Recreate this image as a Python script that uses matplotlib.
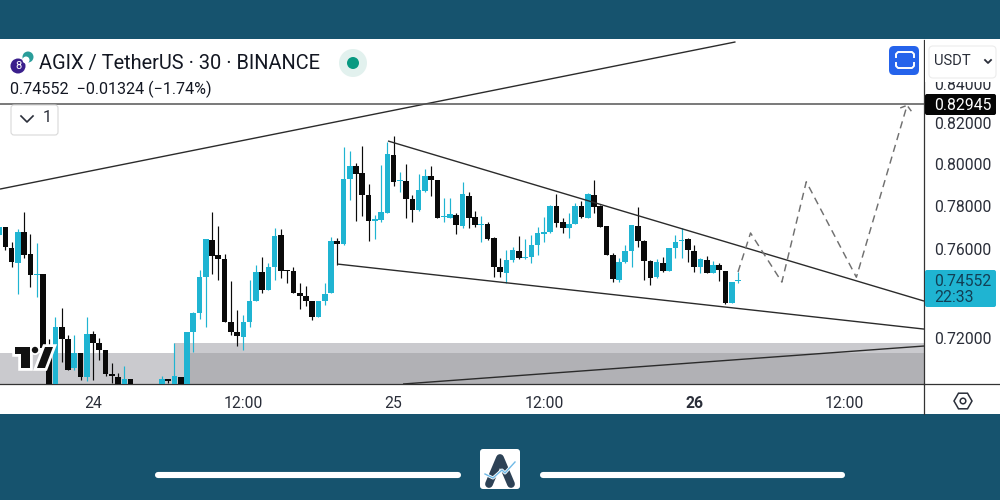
#!/usr/bin/env python3
"""AGIX / TetherUS 30 minute chart with wedge drawings, as seen in a phone screenshot."""

import numpy as np
import matplotlib
matplotlib.use('Agg')
import matplotlib.pyplot as plt
from matplotlib.patches import Rectangle, FancyBboxPatch, Circle, RegularPolygon, Polygon

plt.rcParams['font.family'] = ['Roboto', 'DejaVu Sans']

# bar index 0 is midnight on the 24th, one bar is 30 minutes
first_bar = -15
opens = [.7664, .7703, .7602, .7536, .7678, .7575, .7478, .7486, .7156, .6963, .7247, .7195, .7070, .7134, .7031,
         .7218, .7177, .7149, .7045, .7031, .6985, .7024, .6985, .6950, .6930, .6915, .6963, .7023, .6985, .7031,
         .6963, .7228, .7309, .7472, .7641, .7570, .7555, .7268, .7225, .7206, .7271, .7364, .7494, .7411, .7515,
         .7662, .7501, .7498, .7401, .7386, .7361, .7290, .7365, .7398, .7637, .7620, .7929, .7990, .7955, .7852,
         .7731, .7734, .7768, .8042, .7918, .7921, .7833, .7779, .7871, .7944, .7923, .7746, .7745, .7759, .7706,
         .7849, .7746, .7712, .7715, .7650, .7515, .7491, .7548, .7590, .7558, .7561, .7619, .7669, .7676, .7801,
         .7723, .7698, .7716, .7801, .7745, .7850, .7799, .7704, .7571, .7459, .7538, .7590, .7707, .7637, .7544,
         .7469, .7535, .7498, .7602, .7636, .7644, .7591, .7515, .7548, .7491, .7527, .7498, .7353, .7451]
highs = [.7703, .7703, .7630, .7693, .7770, .7667, .7625, .7486, .7196, .7294, .7334, .7211, .7214, .7134, .7294,
         .7231, .7202, .7149, .7091, .7048, .7077, .7024, .6985, .6950, .6930, .6963, .7034, .7023, .7177, .7031,
         .7228, .7316, .7502, .7647, .7770, .7707, .7576, .7452, .7321, .7302, .7457, .7525, .7564, .7533, .7696,
         .7691, .7503, .7515, .7445, .7431, .7361, .7361, .7442, .7656, .7648, .8082, .8065, .8006, .8088, .7902,
         .7757, .7995, .8109, .8137, .7963, .8000, .7852, .7950, .7974, .7990, .7923, .7839, .7836, .7765, .7912,
         .7868, .7776, .7754, .7726, .7656, .7556, .7594, .7610, .7659, .7645, .7664, .7703, .7746, .7804, .7855,
         .7742, .7765, .7815, .7825, .7863, .7923, .7806, .7704, .7582, .7556, .7618, .7709, .7796, .7641, .7548,
         .7552, .7561, .7602, .7662, .7695, .7648, .7619, .7558, .7567, .7545, .7533, .7498, .7450, .7495]
lows = [.7664, .7595, .7515, .7395, .7558, .7424, .7380, .7156, .6963, .6963, .7098, .7060, .7063, .7020, .7013,
        .7017, .7105, .7037, .7005, .6963, .6963, .6963, .6950, .6930, .6915, .6900, .6963, .7005, .6963, .6963,
        .6963, .7141, .7284, .7247, .7484, .7457, .7268, .7212, .7163, .7149, .7250, .7364, .7398, .7411, .7457,
        .7468, .7445, .7398, .7328, .7343, .7279, .7290, .7346, .7398, .7525, .7618, .7828, .7731, .7753, .7638,
        .7644, .7726, .7768, .7895, .7864, .7743, .7723, .7776, .7868, .7849, .7743, .7726, .7742, .7670, .7695,
        .7698, .7703, .7633, .7641, .7472, .7472, .7442, .7541, .7555, .7552, .7533, .7571, .7633, .7672, .7700,
        .7672, .7651, .7713, .7745, .7745, .7765, .7700, .7570, .7447, .7450, .7536, .7515, .7610, .7457, .7435,
        .7465, .7495, .7498, .7556, .7556, .7538, .7495, .7488, .7488, .7488, .7454, .7349, .7353, .7445]
closes = [.7703, .7607, .7538, .7679, .7573, .7478, .7486, .7156, .6963, .7247, .7195, .7063, .7134, .7031, .7218,
          .7177, .7149, .7045, .7034, .6985, .7024, .6985, .6950, .6930, .6915, .6963, .7024, .7016, .7034, .6985,
          .7228, .7309, .7472, .7647, .7569, .7553, .7268, .7226, .7208, .7271, .7362, .7494, .7412, .7515, .7659,
          .7497, .7497, .7401, .7386, .7361, .7291, .7361, .7396, .7636, .7620, .7929, .7990, .7953, .7852, .7731,
          .7738, .7770, .8047, .7915, .7923, .7832, .7779, .7874, .7944, .7923, .7743, .7751, .7762, .7709, .7855,
          .7745, .7710, .7716, .7645, .7515, .7492, .7548, .7593, .7558, .7564, .7619, .7672, .7679, .7801, .7718,
          .7698, .7717, .7801, .7746, .7857, .7793, .7703, .7571, .7462, .7539, .7591, .7709, .7636, .7544, .7468,
          .7538, .7497, .7602, .7632, .7642, .7593, .7515, .7555, .7491, .7527, .7501, .7353, .7450, .7457]

# drawings as (bar, price)
channel_top = [(-14.86, .7880), (102.6, .8615)]
wedge_upper = [(47.1, .8113), (132.7, .7363)]
wedge_lower = [(39.0, .7530), (132.7, .7239)]
rising_support = [(49.5, .7002), (132.7, .7165)]
projection_bars = [103.0, 105.0, 110.0, 113.9, 121.9, 130.0]
projection_prices = [.7494, .7673, .7448, .7915, .7470, .8290]
arrow_bars = [128.9, 130.0, 130.7]
arrow_prices = [.8277, .8290, .8260]
last_close_line = 0.82945

# zones: start bar, end bar, lower price, upper price
zone_left = (-14.86, 14.8, .7002, .7135)
zone_band = (12.9, 132.7, .7135, .7178)
zone_core = (14.8, 132.7, .7002, .7135)

price_ticks = [0.72, 0.76, 0.78, 0.80, 0.82, 0.84]
time_ticks = [0, 24, 48, 72, 96, 120]
time_labels = ['24', '12:00', '25', '12:00', '26', '12:00']

UP = '#1fb4d2'
DOWN = '#0a0a0a'
BAND = '#16536e'
INK = '#2a2e39'
LINE = '#2b2b2b'
ZONE_LIGHT = '#cacace'
ZONE_DARK = '#b1b1b5'
DASH = '#707070'


def draw_candles(ax):
    x = first_bar + np.arange(len(opens))
    o, h, l, c = map(np.array, (opens, highs, lows, closes))
    colors = [UP if cc >= oo else DOWN for oo, cc in zip(o, c)]
    ax.vlines(x, l, h, colors=colors, linewidth=0.85, zorder=3)
    bottoms = np.minimum(o, c)
    ax.bar(x, np.maximum(o, c) - bottoms, bottom=bottoms, width=0.9, color=colors, linewidth=0, zorder=4)


def draw_zones(ax):
    for (start, end, low, high), color in ((zone_left, ZONE_LIGHT), (zone_band, ZONE_LIGHT), (zone_core, ZONE_DARK)):
        ax.add_patch(Rectangle((start, low), end - start, high - low, facecolor=color, linewidth=0, zorder=1))


def draw_drawings(ax):
    for line in (channel_top, wedge_upper, wedge_lower, rising_support):
        xs, ys = zip(*line)
        ax.plot(xs, ys, color=LINE, linewidth=1.0, zorder=5, solid_capstyle='butt')
    ax.axhline(last_close_line, color='#555555', linewidth=1.1, zorder=5)
    ax.plot(projection_bars, projection_prices, color=DASH, linewidth=1.05, dashes=(5, 3.4), zorder=5)
    ax.plot(arrow_bars, arrow_prices, color=DASH, linewidth=1.05, dashes=(4, 2), zorder=5)


def draw_chart(fig):
    ax = fig.add_axes([0, 116 / 500, 0.924, 344 / 500], facecolor='white')
    ax.set_yscale('log')
    ax.set_xlim(-14.86, 132.7)
    ax.set_ylim(0.7002, 0.8625)
    draw_zones(ax)
    draw_candles(ax)
    draw_drawings(ax)

    ax.yaxis.tick_right()
    ax.set_yticks(price_ticks)
    ax.set_yticklabels([f'{p:.5f}' for p in price_ticks], fontsize=11.3, color=INK)
    ax.minorticks_off()
    ax.set_xticks(time_ticks)
    ax.set_xticklabels(time_labels, fontsize=11.3, color=INK)
    ax.get_xticklabels()[4].set_fontweight('bold')
    ax.tick_params(axis='x', length=0, pad=9)
    ax.tick_params(axis='y', length=0, pad=7.2)
    for name, spine in ax.spines.items():
        spine.set_visible(name in ('right', 'bottom'))
        spine.set_color('#333333')
        spine.set_linewidth(0.9)
    return ax


def rounded(over, x, y, w, h, r, **kw):
    over.add_patch(FancyBboxPatch((x + r, y + r), w - 2 * r, h - 2 * r,
                                  boxstyle=f'round,pad={r},rounding_size={r}', **kw))


def draw_overlay(fig):
    over = fig.add_axes([0, 0, 1, 1], facecolor='none')
    over.set_xlim(0, 1000)
    over.set_ylim(500, 0)
    over.axis('off')

    # phone frame
    over.add_patch(Rectangle((0, 0), 1000, 39, facecolor=BAND, linewidth=0))
    over.add_patch(Rectangle((0, 414), 1000, 86, facecolor=BAND, linewidth=0))
    over.plot([924, 924], [384, 414], color='#333333', linewidth=0.9)
    over.plot([924, 1000], [384, 384], color='#333333', linewidth=0.9)
    over.plot([158, 458], [475, 475], color='white', linewidth=4.4, solid_capstyle='round')
    over.plot([543, 842], [475, 475], color='white', linewidth=4.4, solid_capstyle='round')

    # app logo
    rounded(over, 480, 449, 40, 40, 3, facecolor='white', linewidth=0)
    over.plot([489, 500, 511], [484, 458, 484], color='#2d4256', linewidth=5.6, solid_capstyle='round',
              solid_joinstyle='round')
    over.plot([485, 493, 502, 505, 515], [474, 478, 470, 473, 462], color='white', linewidth=2.2)
    over.plot([485, 493, 502, 505, 515], [474, 478, 470, 473, 462], color='#6fb9e6', linewidth=1.0)

    # header
    over.add_patch(Circle((18, 66), 7.5, facecolor='#3a1f8c', linewidth=0))
    over.text(18, 66, '8', fontsize=8, color='white', ha='center', va='center')
    over.add_patch(Circle((28, 57), 5.5, facecolor='#2a9d9a', linewidth=0))
    over.add_patch(Circle((26, 60), 3.5, facecolor='white', linewidth=0))
    over.text(39, 63, 'AGIX / TetherUS · 30 · BINANCE', fontsize=14.45, color='#131722', va='center')
    over.text(10, 89, '0.74552  −0.01324 (−1.74%)', fontsize=11.65, color='#131722', va='center')
    over.add_patch(Circle((353, 63), 14, facecolor='#e2f1ee', linewidth=0))
    over.add_patch(Circle((353, 63), 6, facecolor='#089981', linewidth=0))

    # collapse chip
    rounded(over, 11, 105, 47, 30, 3, facecolor='white', edgecolor='#d9d9d9', linewidth=0.8)
    over.plot([21, 27, 33], [116, 122, 116], color=INK, linewidth=1.2)
    over.text(47, 118, '1', fontsize=11.5, color=INK, ha='center', va='center')

    # fullscreen button
    rounded(over, 889, 46, 30, 29, 5, facecolor='#2563eb', linewidth=0)
    over.plot([896, 896, 898, 912, 914, 914], [57, 54, 52, 52, 54, 57], color='white', linewidth=1.4)
    over.plot([896, 896, 898, 912, 914, 914], [63, 66, 68, 68, 66, 63], color='white', linewidth=1.4)

    # currency box, hides the top of the highest price label
    over.add_patch(Rectangle((925, 40), 75, 42, facecolor='white', linewidth=0))
    rounded(over, 929, 46, 67, 32, 4, facecolor='white', edgecolor='#ececec', linewidth=0.8)
    over.text(934, 61, 'USDT', fontsize=10.6, color=INK, va='center')
    over.plot([985, 988, 991], [60, 63, 60], color=INK, linewidth=1.3)

    # price labels
    rounded(over, 925, 94, 71, 21, 2, facecolor='#050505', linewidth=0)
    over.text(934, 105, '0.82945', fontsize=11.3, color='white', va='center')
    rounded(over, 925, 270, 71, 37, 2, facecolor=UP, linewidth=0)
    over.text(934, 281, '0.74552', fontsize=11.3, color='#123f55', va='center')
    over.text(934, 298, '22:33', fontsize=11.3, color='#123f55', va='center')

    # settings hexagon
    over.add_patch(RegularPolygon((963, 401), 6, radius=9, orientation=np.pi / 2, facecolor='none',
                                  edgecolor=INK, linewidth=1.1))
    over.add_patch(Circle((963, 401), 2.8, facecolor='none', edgecolor=INK, linewidth=1.1))

    # TradingView mark with its white halo
    mark = [[(15, 347), (30, 347), (30, 368), (21, 368), (21, 354), (15, 354)],
            [(37, 368), (45, 347), (53, 347), (45, 368)]]
    for pts in mark:
        over.add_patch(Polygon(pts, closed=True, facecolor='white', edgecolor='white', linewidth=4))
    over.add_patch(Circle((35, 350), 5, facecolor='white', linewidth=0))
    for pts in mark:
        over.add_patch(Polygon(pts, closed=True, facecolor='#111111', linewidth=0))
    over.add_patch(Circle((35, 350), 3.2, facecolor='#111111', linewidth=0))


def main():
    fig = plt.figure(figsize=(10, 5), dpi=100, facecolor='white')
    draw_chart(fig)
    draw_overlay(fig)
    fig.savefig('out.png', dpi=100)


if __name__ == '__main__':
    main()
